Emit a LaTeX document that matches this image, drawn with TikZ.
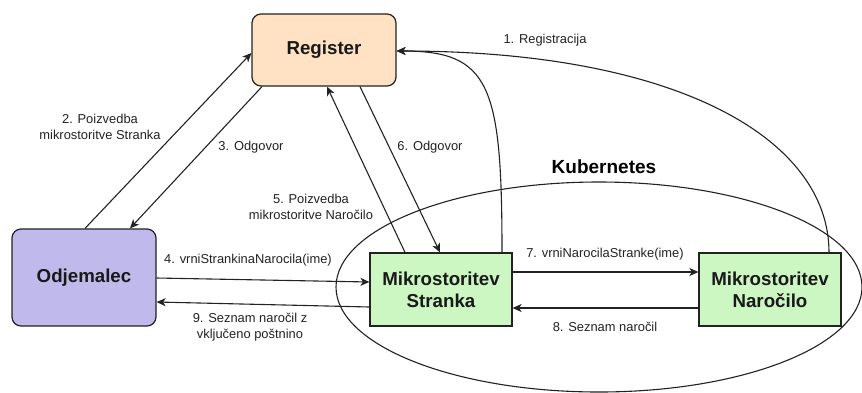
\documentclass[tikz,border=0pt]{standalone}
\usepackage{fontspec}
\setmainfont{Liberation Sans}
\usetikzlibrary{arrows.meta,shapes.geometric}

\definecolor{regfill}{HTML}{FFE1C4}
\definecolor{clifill}{HTML}{C0B9EC}
\definecolor{msfill}{HTML}{CCF6C2}
\definecolor{edgecol}{HTML}{222222}
\definecolor{labcol}{HTML}{222222}

\tikzset{
  box/.style={draw=edgecol, line width=1.2pt, inner sep=0pt, align=center,
    font=\fontsize{18.7}{22}\selectfont\bfseries, text=black!90},
  roundbox/.style={box, rounded corners=9pt},
  lab/.style={align=center, inner sep=0pt, text=labcol,
    font=\fontsize{12.9}{15.5}\selectfont},
  flow/.style={draw=edgecol, line width=1.1pt,
    -{Stealth[length=9pt,width=8pt,inset=2.5pt]}},
}

\begin{document}
\begin{tikzpicture}[x=1pt,y=-1pt]
\useasboundingbox (0,0) rectangle (862,392);

% Kubernetes cluster boundary
\node[draw=edgecol, line width=1.1pt, ellipse, minimum width=526pt,
  minimum height=210pt, inner sep=0pt] (k8s) at (599,287) {};
\node[font=\fontsize{19}{22}\selectfont\bfseries, inner sep=0pt] (k8slab) at (604,167) {Kubernetes};

% services
\node[roundbox, fill=regfill, minimum width=144pt, minimum height=72pt] (reg) at (324,50) {Register};
\node[roundbox, fill=clifill, minimum width=144pt, minimum height=97pt] (cli) at (84,277.5) {Odjemalec};
\node[box, fill=msfill, minimum width=142pt, minimum height=73pt] (str) at (441,289.5) {Mikrostoritev\\Stranka};
\node[box, fill=msfill, minimum width=142pt, minimum height=73pt] (nar) at (770,289.5) {Mikrostoritev\\Naročilo};

% registration of both microservices
\draw[flow] ([xshift=61pt]str.north) .. controls (502,85) and (490,51) .. ([yshift=-1pt]reg.east);
\draw[flow] ([xshift=59pt]nar.north) .. controls (829,140) and (680,51) .. ([yshift=-1pt]reg.east);

% client <-> registry
\draw[flow] ([xshift=1pt]cli.north) -- ([yshift=-3pt]reg.west);
\draw[flow] ([xshift=-62pt]reg.south) -- ([xshift=46pt]cli.north);

% Stranka <-> registry
\draw[flow] ([xshift=-36pt]str.north) -- ([xshift=3pt]reg.south);
\draw[flow] ([xshift=36pt]reg.south) -- ([xshift=-1pt]str.north);

% client <-> Stranka
\draw[flow] ([yshift=-0.5pt]cli.east) -- ([yshift=7.5pt]str.west);
\draw[flow] ([yshift=-17.5pt]str.west) -- ([yshift=-24.5pt]cli.east);

% Stranka <-> Naročilo
\draw[flow] ([yshift=17.5pt]str.east) -- ([yshift=17.5pt]nar.west);
\draw[flow] ([yshift=-18.5pt]nar.west) -- ([yshift=-18.5pt]str.east);

% step labels
\node[lab] (l1) at (545,40) {1. Registracija};
\node[lab] (l2) at (100,127) {2. Poizvedba\\mikrostoritve Stranka};
\node[lab] (l3) at (251,147) {3. Odgovor};
\node[lab] (l4) at (248,260) {4. vrniStrankinaNarocila(ime)};
\node[lab] (l5) at (311,207) {5. Poizvedba\\mikrostoritve Naročilo};
\node[lab] (l6) at (430,147) {6. Odgovor};
\node[lab] (l7) at (605,254) {7. vrniNarocilaStranke(ime)};
\node[lab] (l8) at (605,327) {8. Seznam naročil};
\node[lab] (l9) at (250,327) {9. Seznam naročil z\\vključeno poštnino};
\end{tikzpicture}
\end{document}
